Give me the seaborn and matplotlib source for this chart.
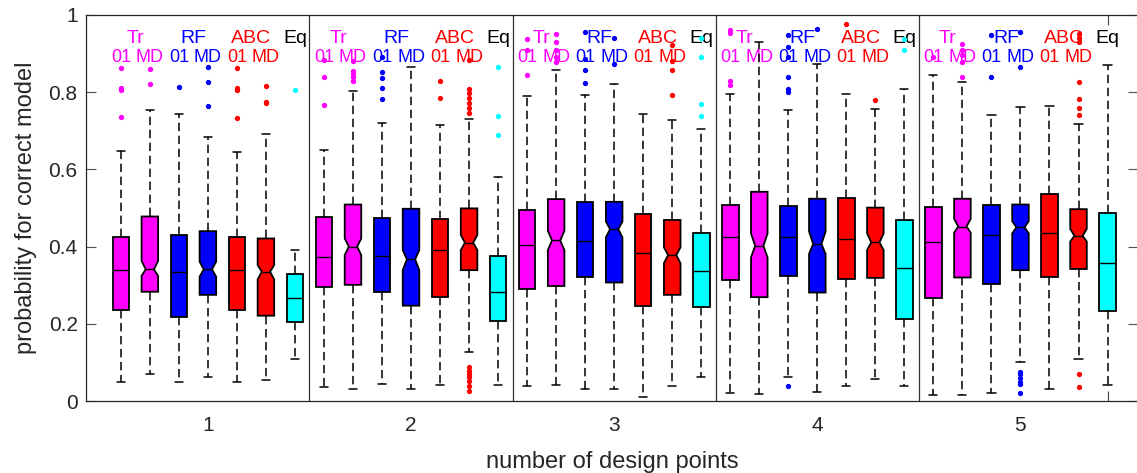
import numpy as np
import seaborn as sns
import matplotlib
matplotlib.use('Agg')
import matplotlib.pyplot as plt

# number of design points (groups) and the seven boxes inside each group
groups = ['1', '2', '3', '4', '5']
series = ['Tr 01', 'Tr MD', 'RF 01', 'RF MD', 'ABC 01', 'ABC MD', 'Eq']
notched = [False, True, False, True, False, True, False]
colors = ['#ff00ff', '#ff00ff', '#0000ff', '#0000ff', '#ff0000', '#ff0000', '#00ffff']

# box statistics, rows = series, columns = groups
q1 = [
    [0.236, 0.295, 0.289, 0.313, 0.266],
    [0.283, 0.301, 0.298, 0.269, 0.320],
    [0.217, 0.282, 0.320, 0.325, 0.303],
    [0.275, 0.247, 0.307, 0.281, 0.339],
    [0.236, 0.270, 0.247, 0.317, 0.320],
    [0.221, 0.339, 0.275, 0.319, 0.342],
    [0.205, 0.208, 0.243, 0.212, 0.233],
]
med = [
    [0.339, 0.373, 0.404, 0.426, 0.411],
    [0.341, 0.400, 0.416, 0.402, 0.452],
    [0.335, 0.375, 0.415, 0.426, 0.429],
    [0.341, 0.367, 0.445, 0.407, 0.450],
    [0.339, 0.390, 0.384, 0.419, 0.435],
    [0.335, 0.410, 0.378, 0.411, 0.428],
    [0.266, 0.282, 0.338, 0.344, 0.358],
]
q3 = [
    [0.426, 0.476, 0.495, 0.509, 0.502],
    [0.478, 0.509, 0.523, 0.542, 0.524],
    [0.430, 0.473, 0.516, 0.505, 0.507],
    [0.440, 0.498, 0.516, 0.524, 0.509],
    [0.426, 0.471, 0.484, 0.525, 0.535],
    [0.421, 0.499, 0.469, 0.501, 0.497],
    [0.328, 0.376, 0.434, 0.469, 0.488],
]
whis_lo = [
    [0.050, 0.035, 0.040, 0.021, 0.016],
    [0.070, 0.031, 0.041, 0.017, 0.016],
    [0.049, 0.043, 0.031, 0.063, 0.022],
    [0.062, 0.032, 0.032, 0.024, 0.100],
    [0.050, 0.041, 0.010, 0.040, 0.031],
    [0.054, 0.126, 0.039, 0.058, 0.110],
    [0.110, 0.041, 0.063, 0.040, 0.041],
]
whis_hi = [
    [0.648, 0.650, 0.791, 0.795, 0.845],
    [0.754, 0.803, 0.858, 0.929, 0.826],
    [0.744, 0.719, 0.793, 0.754, 0.740],
    [0.685, 0.864, 0.820, 0.873, 0.762],
    [0.646, 0.715, 0.744, 0.795, 0.765],
    [0.691, 0.731, 0.728, 0.757, 0.718],
    [0.391, 0.580, 0.704, 0.807, 0.870],
]
# notch limits (only used for the MD boxes)
notch_lo = [
    None,
    [0.324, 0.378, 0.391, 0.372, 0.436],
    None,
    [0.322, 0.339, 0.424, 0.381, 0.434],
    None,
    [0.315, 0.391, 0.357, 0.391, 0.413],
    None,
]
notch_hi = [
    None,
    [0.363, 0.421, 0.441, 0.434, 0.472],
    None,
    [0.361, 0.391, 0.465, 0.439, 0.466],
    None,
    [0.352, 0.430, 0.398, 0.434, 0.446],
    None,
]
# outliers
fliers = [
    [[0.862, 0.810, 0.805, 0.735], [0.883, 0.840, 0.766], [0.938, 0.909, 0.845],
     [0.961, 0.953, 0.828, 0.818], [0.892]],
    [[0.860, 0.820], [0.881, 0.855, 0.847, 0.839, 0.829], [0.952, 0.931, 0.909, 0.892, 0.879],
     [], [0.926, 0.909, 0.896, 0.879, 0.840]],
    [[0.813], [0.892, 0.853, 0.836, 0.810, 0.782], [0.955, 0.885, 0.858, 0.825],
     [0.948, 0.918, 0.892, 0.840, 0.807, 0.801, 0.040], [0.948, 0.839]],
    [[0.864, 0.827, 0.764], [], [0.941, 0.872],
     [0.965], [0.957, 0.866, 0.076, 0.070, 0.059, 0.050, 0.044, 0.021]],
    [[0.862, 0.810, 0.805, 0.734], [0.830, 0.786], [],
     [0.977], []],
    [[0.816, 0.775, 0.771],
     [0.883, 0.807, 0.797, 0.784, 0.771, 0.758, 0.745, 0.087, 0.078, 0.070, 0.062, 0.052, 0.040, 0.027],
     [0.922, 0.881, 0.858, 0.794], [0.780],
     [0.950, 0.940, 0.930, 0.826, 0.782, 0.759, 0.741, 0.070, 0.037]],
    [[0.805], [0.864, 0.739, 0.689], [0.941, 0.890, 0.769, 0.739], [0.937, 0.909], []],
]

head_top = ['Tr', 'RF', 'ABC', 'Eq']
head_top_colors = ['#ff00ff', '#0000ff', '#ff0000', 'black']
head_sub = ['01', 'MD']

sns.set_theme(style='white')
plt.rcParams['font.family'] = ['Liberation Sans', 'DejaVu Sans']

fig = plt.figure(figsize=(11.37, 4.73), dpi=100)
ax = fig.add_axes([86 / 1137, 72 / 473, 1052 / 1137, 386 / 473])

n_s = len(series)
for notch_flag in (False, True):
    stats, pos, cols = [], [], []
    for s in range(n_s):
        if notched[s] != notch_flag:
            continue
        for g in range(len(groups)):
            d = {
                'q1': q1[s][g], 'med': med[s][g], 'q3': q3[s][g],
                'whislo': whis_lo[s][g], 'whishi': whis_hi[s][g],
                'fliers': np.array(fliers[s][g]),
            }
            if notch_flag:
                d['cilo'] = notch_lo[s][g]
                d['cihi'] = notch_hi[s][g]
            stats.append(d)
            pos.append(g * n_s + s + 1)
            cols.append(colors[s])
    bp = ax.bxp(
        stats, positions=pos, widths=0.57, capwidths=0.28, shownotches=notch_flag,
        patch_artist=True, manage_ticks=False,
        boxprops=dict(edgecolor='black', linewidth=1.3),
        whiskerprops=dict(color='black', linewidth=1.1, linestyle=(0, (5.5, 3))),
        capprops=dict(color='black', linewidth=1.1),
        medianprops=dict(color='black', linewidth=1.0),
        flierprops=dict(marker='o', markersize=2.8, linestyle='none'),
    )
    for box, fl, c in zip(bp['boxes'], bp['fliers'], cols):
        box.set_facecolor(c)
        box.set_zorder(2)
        fl.set_markerfacecolor(c)
        fl.set_markeredgecolor(c)
        fl.set_zorder(3)

# group separators
for g in range(1, len(groups)):
    ax.axvline(g * n_s + 0.5, color='#303030', linewidth=0.9, zorder=1)

# header labels above each group
for g in range(len(groups)):
    base = g * n_s
    for k, (lab, c) in enumerate(zip(head_top, head_top_colors)):
        x = base + 7 if lab == 'Eq' else base + 2 * k + 1.5
        ax.text(x, 0.927, lab, color=c, fontsize=14, ha='center', va='baseline', zorder=1)
        if lab != 'Eq':
            for j, sub in enumerate(head_sub):
                ax.text(base + 2 * k + 1 + j, 0.878, sub, color=c, fontsize=13,
                        ha='center', va='baseline', zorder=1)

ax.set_xlim(-0.2, 36.05)
ax.set_ylim(0, 1)
ax.set_xticks([g * n_s + 4 for g in range(len(groups))])
ax.set_xticklabels(groups)
ax.set_xticks([35], minor=True)
ax.set_yticks([0, 0.2, 0.4, 0.6, 0.8, 1])
ax.set_yticklabels(['0', '0.2', '0.4', '0.6', '0.8', '1'])
ax.tick_params(axis='x', which='major', length=0, pad=11, labelsize=15, colors='#262626')
ax.tick_params(axis='x', which='minor', length=7.5, direction='in', top=True, bottom=True,
               color='#404040', width=0.8)
ax.tick_params(axis='y', which='major', length=7.5, direction='in', left=True, right=True,
               pad=6, labelsize=15, color='#505050', width=0.8, labelcolor='#262626')
for sp in ax.spines.values():
    sp.set_color('#262626')
    sp.set_linewidth(0.9)

ax.set_xlabel('number of design points', fontsize=17, labelpad=11, color='#262626')
ax.set_ylabel('probability for correct model', fontsize=17, labelpad=8, color='#262626')

fig.savefig('out.png', dpi=100)
